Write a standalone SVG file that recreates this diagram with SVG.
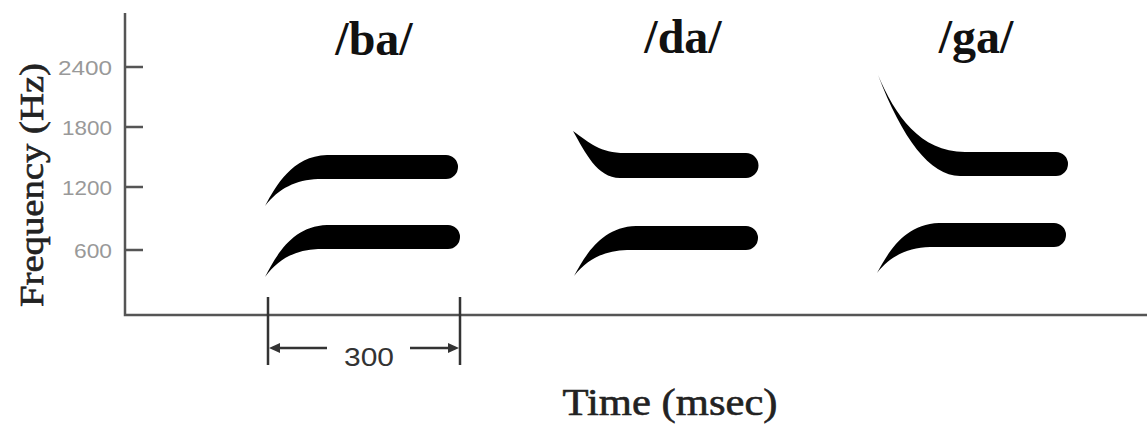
<svg xmlns="http://www.w3.org/2000/svg" width="1147" height="426" viewBox="0 0 1147 426">
<style>
.axis{stroke:#555;stroke-width:2.5;fill:none}
.tick{font-family:"Liberation Sans",Arial,sans-serif;font-size:21px;fill:#999;text-anchor:end}
.title{font-family:"Liberation Serif","Times New Roman",serif;font-weight:bold;font-size:48px;fill:#111;text-anchor:middle}
.lab{font-family:"Liberation Serif","Times New Roman",serif;fill:#222;text-anchor:middle;stroke:#222;stroke-width:0.6}
.num{font-family:"Liberation Sans",Arial,sans-serif;font-size:26px;fill:#333;text-anchor:middle}
.f{fill:#000}
.dim{stroke:#333;stroke-width:2.5;fill:none}
</style>
<rect width="1147" height="426" fill="#fff"/>
<g id="axes">
<path class="axis" d="M125,13 V315 H1147"/>
<path class="axis" d="M125,67 H143 M125,127 H143 M125,187 H143 M125,250 H143"/>
<text class="tick" x="112" y="75" textLength="54" lengthAdjust="spacingAndGlyphs">2400</text>
<text class="tick" x="112" y="135" textLength="50" lengthAdjust="spacingAndGlyphs">1800</text>
<text class="tick" x="112" y="195" textLength="50" lengthAdjust="spacingAndGlyphs">1200</text>
<text class="tick" x="112" y="258" textLength="38" lengthAdjust="spacingAndGlyphs">600</text>
<text class="lab" font-size="34" transform="translate(43,185) rotate(-90)" textLength="244" lengthAdjust="spacingAndGlyphs">Frequency (Hz)</text>
<text class="lab" font-size="38" x="670" y="415" textLength="215" lengthAdjust="spacingAndGlyphs">Time (msec)</text>
</g>
<g id="ba">
<text class="title" x="374" y="55">/ba/</text>
<path class="f" d="M265,206 C276,186 292,156 327,155 H446 A12 12 0 0 1 446,179 H318 C296,180 279,188 265,206Z"/>
<path class="f" d="M265,277 C276,256 292,226 327,225 H448 A12 12 0 0 1 448,249 H318 C296,250 279,258 265,277Z"/>
</g>
<g id="da">
<text class="title" x="683" y="53">/da/</text>
<path class="f" d="M573,131 C590,143 600,153 625,153 H746 A12.5 12.5 0 0 1 746,178 H620 C597,178 585,152 573,131Z"/>
<path class="f" d="M574,276 C585,256 601,227 636,226 H746 A12 12 0 0 1 746,250 H627 C605,251 588,258 574,276Z"/>
</g>
<g id="ga">
<text class="title" x="976" y="53">/ga/</text>
<path class="f" d="M878,75 C895,115 920,152 965,152 H1056 A12 12 0 0 1 1056,176 H960 C930,176 902,138 878,75Z"/>
<path class="f" d="M877,273 C888,253 904,224 939,223 H1054 A12 12 0 0 1 1054,247 H930 C908,248 891,255 877,273Z"/>
</g>
<g id="connectors">
<path class="dim" d="M268,297 V365 M460,297 V365"/>
<path class="dim" stroke-width="2" d="M278,348 H327 M410,348 H451"/>
<polygon fill="#333" points="269,348 280,343 280,353"/>
<polygon fill="#333" points="459,348 448,343 448,353"/>
<text class="num" x="369" y="366" textLength="50" lengthAdjust="spacingAndGlyphs">300</text>
</g>
</svg>
